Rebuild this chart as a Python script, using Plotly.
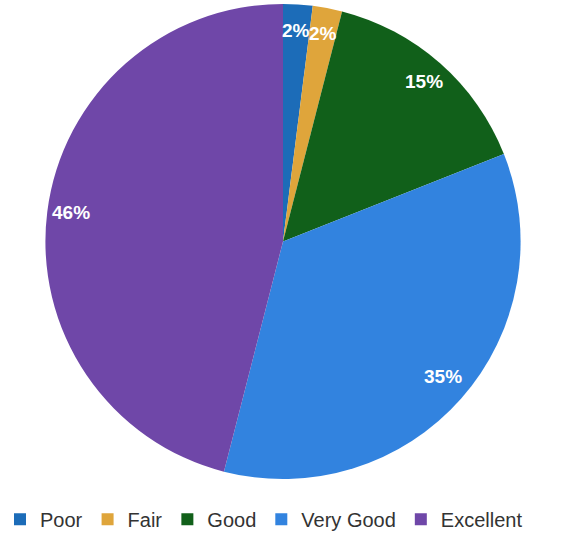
import math
import plotly.graph_objects as go

categories = ["Poor", "Fair", "Good", "Very Good", "Excellent"]
values = [2, 2, 15, 35, 46]
colors = ["#1c6cb8", "#dfa53b", "#11601a", "#3283df", "#6f47a8"]

W, H = 579, 539
cx_px, cy_px, R_px = 283, 244, 240
dom_cy = cy_px + 3   # compensate plotly's placement inside the domain
R_dom = R_px + 3     # plotly trims a few pixels inside the domain

dom_x = [(cx_px - R_dom) / W, (cx_px + R_dom) / W]
dom_y = [max(0, 1 - (dom_cy + R_dom) / H), 1 - (dom_cy - R_dom) / H]

fig = go.Figure(
    go.Pie(
        labels=categories,
        values=values,
        sort=False,
        direction="clockwise",
        rotation=0,
        marker=dict(colors=colors, line=dict(width=0)),
        textinfo="none",
        hoverinfo="label+percent",
        domain=dict(x=dom_x, y=dom_y),
    )
)

total = sum(values)
cum = 0
annotations = []
for v in values:
    mid = (cum + v / 2) / total * 2 * math.pi
    cum += v
    r = 0.89 * R_px
    x_px = cx_px + r * math.sin(mid)
    y_px = cy_px - r * math.cos(mid)
    annotations.append(
        dict(
            x=x_px / W,
            y=1 - y_px / H,
            xref="paper",
            yref="paper",
            text=f"<b>{round(v / total * 100)}%</b>",
            showarrow=False,
            font=dict(family="Arial, Liberation Sans, sans-serif", size=19, color="white"),
            xanchor="center",
            yanchor="middle",
        )
    )

fig.update_layout(
    width=W,
    height=H,
    margin=dict(l=0, r=0, t=0, b=0),
    paper_bgcolor="white",
    plot_bgcolor="white",
    annotations=annotations,
    showlegend=True,
    legend=dict(
        orientation="h",
        x=261 / W,
        xanchor="center",
        y=1 - 531 / H,
        yanchor="middle",
        font=dict(family="Arial, Liberation Sans, sans-serif", size=20, color="#333333"),
        itemwidth=30,
        traceorder="normal",
    ),
)

fig.write_html(
    "out.html",
    config={"displayModeBar": False},
    post_script="document.body.style.margin='0';document.body.style.overflow='hidden';",
)
